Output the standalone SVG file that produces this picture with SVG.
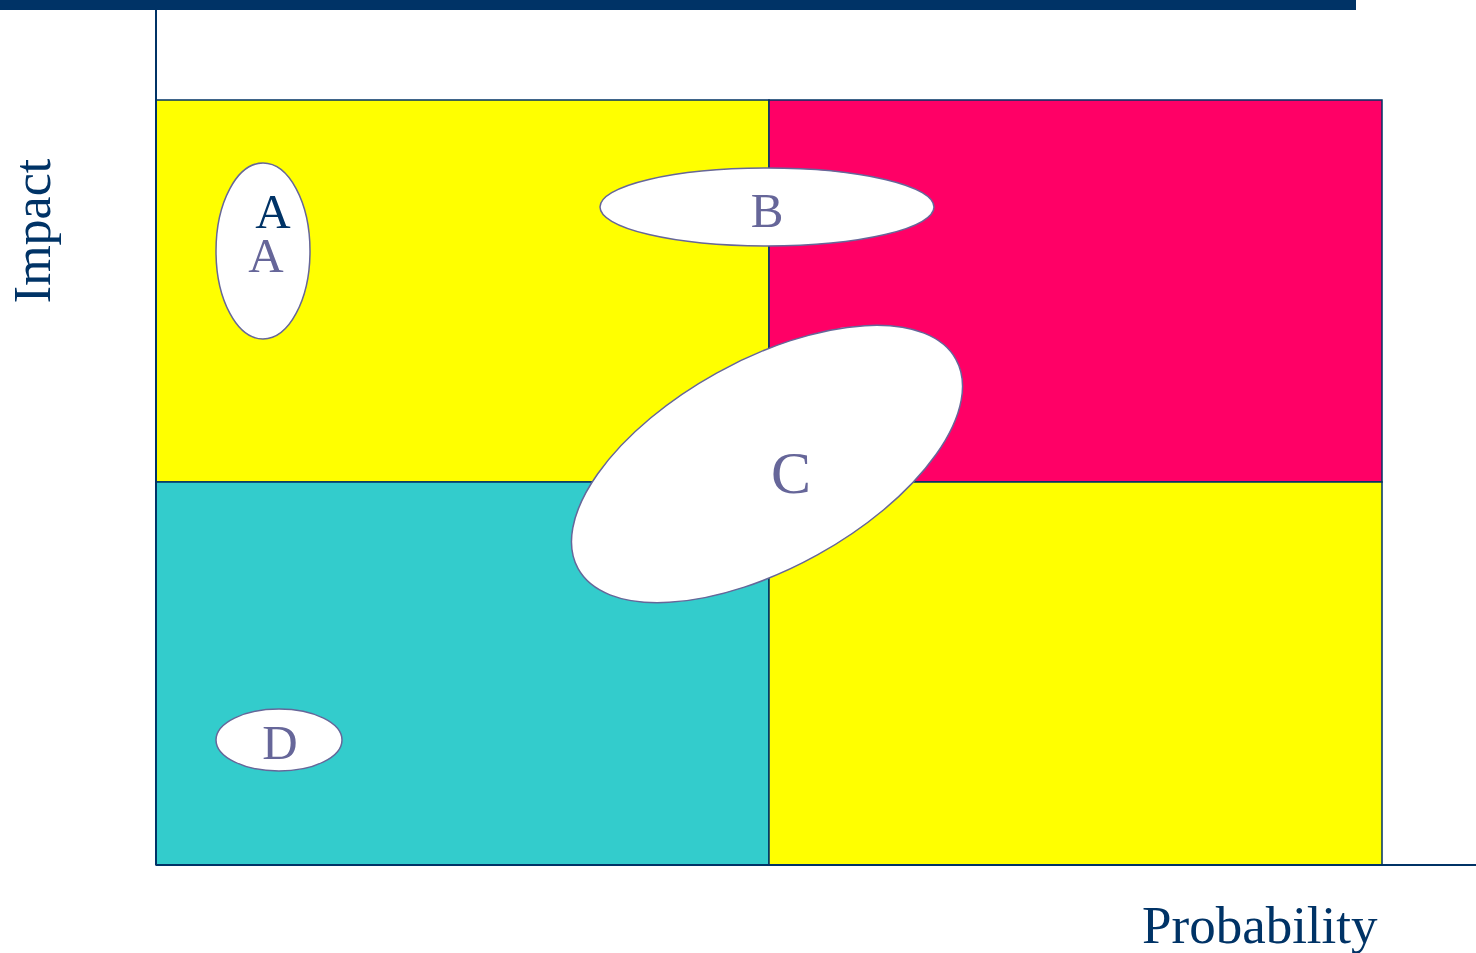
<svg xmlns="http://www.w3.org/2000/svg" width="1476" height="953" viewBox="0 0 1476 953">
<style>
.q{stroke:#003366;stroke-width:1.5}
.e{fill:#fff;stroke:#666699;stroke-width:1.5}
.t{font-family:"Liberation Serif",serif;fill:#666699;text-anchor:middle}
.ax{font-family:"Liberation Serif",serif;fill:#003366}
</style>
<rect x="0" y="0" width="1356" height="10" fill="#003366"/>
<g id="quadrants">
<rect class="q" x="156" y="100" width="613" height="382" fill="#FFFF00"/>
<rect class="q" x="769" y="100" width="613" height="382" fill="#FF0066"/>
<rect class="q" x="156" y="482" width="613" height="383" fill="#33CCCC"/>
<rect class="q" x="769" y="482" width="613" height="383" fill="#FFFF00"/>
</g>
<g id="axes">
<line x1="156" y1="10" x2="156" y2="865" stroke="#003366" stroke-width="2"/>
<line x1="156" y1="865" x2="1476" y2="865" stroke="#003366" stroke-width="2"/>
</g>
<g id="nodeA">
<ellipse class="e" cx="263" cy="251" rx="47" ry="88"/>
<text class="t" x="273" y="228" font-size="49" style="fill:#003366">A</text>
<text class="t" x="266" y="272" font-size="49">A</text>
</g>
<g id="nodeB">
<ellipse class="e" cx="767" cy="207" rx="167" ry="39"/>
<text class="t" x="767" y="227" font-size="49">B</text>
</g>
<g id="nodeC">
<ellipse class="e" cx="767" cy="464" rx="216" ry="104" transform="rotate(-29 767 464)"/>
<text class="t" x="791" y="493" font-size="60">C</text>
</g>
<g id="nodeD">
<ellipse class="e" cx="279" cy="740" rx="63" ry="31"/>
<text class="t" x="280" y="759" font-size="49">D</text>
</g>
<g id="labels">
<text class="ax" x="0" y="0" font-size="52" text-anchor="middle" transform="translate(50 231) rotate(-90)">Impact</text>
<text class="ax" x="1142" y="943" font-size="53">Probability</text>
</g>
</svg>
